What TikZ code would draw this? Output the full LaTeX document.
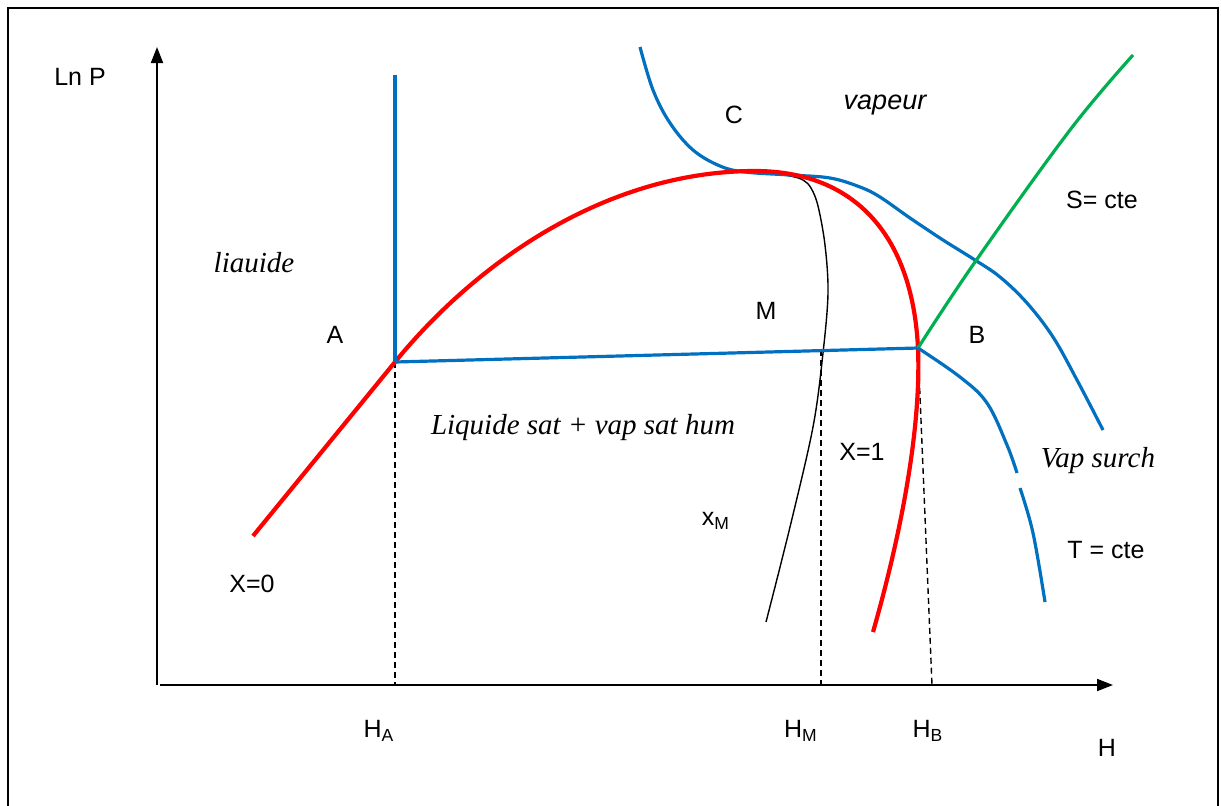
\documentclass[tikz,border=0pt]{standalone}
\usepackage{fontspec}
\setmainfont{Liberation Sans}
\newfontfamily\serifit{Liberation Serif}
\usetikzlibrary{arrows.meta}
\definecolor{cred}{RGB}{255,0,0}
\definecolor{cblue}{RGB}{0,112,192}
\definecolor{cgreen}{RGB}{0,176,80}
\begin{document}
\begin{tikzpicture}[x=0.5pt,y=-0.5pt,
  lbl/.style={font=\fontsize{12.5}{14}\selectfont, inner sep=0pt},
  ilbl/.style={font=\serifit\itshape\fontsize{14.5}{16}\selectfont, inner sep=0pt},
  slbl/.style={font=\itshape\fontsize{13.5}{15}\selectfont, inner sep=0pt},
  redc/.style={draw=cred, line width=2.1pt, line join=round},
  bluec/.style={draw=cblue, line width=1.6pt},
  greenc/.style={draw=cgreen, line width=1.6pt},
  blackc/.style={draw=black, line width=0.7pt},
  axis/.style={draw=black, line width=0.9pt, -{Triangle[length=8pt,width=6pt]}},
  guide/.style={draw=black, line width=0.7pt, dash pattern=on 3pt off 2pt},
  frame/.style={draw=black, line width=0.8pt}]
\fill[white] (0,0) rectangle (1221,805);
\useasboundingbox (0,0) rectangle (1221,805);
\draw[frame] (8,810) -- (8,8) -- (1218,8) -- (1218,810);

% key points
\coordinate (O) at (157,685);
\coordinate (Ytop) at (157,47);
\coordinate (Xo) at (160,685);
\coordinate (Xend) at (1113,685);
\coordinate (A) at (395,362);
\coordinate (B) at (918,348);
\coordinate (Top) at (755,171);
\coordinate (Rlow) at (253,536);
\coordinate (Rend) at (873,632);
\coordinate (Mx) at (821,350);
\coordinate (Atop) at (395,75);
\coordinate (HAb) at (395,685);
\coordinate (HMb) at (821,685);
\coordinate (HBb) at (932,685);

% axes
\draw[axis] (O) -- (Ytop);
\draw[axis] (Xo) -- (Xend);

% dashed guides
\draw[guide] (A) -- (HAb);
\draw[guide] (Mx) -- (HMb);
\draw[guide] (B) -- (HBb);

% black x_M curve
\draw[blackc] plot[smooth, tension=0.55] coordinates {(740,171) (763,172) (790,176) (803,180) (811,188) (818,206) (825,245) (828,293) (823,353) (813,427) (790,527) (766,622)};

% blue critical isotherm (C)
\draw[bluec] plot[smooth, tension=0.6] coordinates {(640,47) (653,90) (670,123) (693,150) (720,166) (745,172) (790,175) (830,178) (860,187) (880,197) (910,218) (943,240) (975,260) (1000,277) (1027,303) (1053,337) (1077,380) (1103,430)};

% red saturation curve
\draw[redc] (Rlow) -- (A) .. controls (480,258) and (610,171) .. (Top)
  .. controls (850,171) and (912,230) .. (B)
  .. controls (921,420) and (905,520) .. (Rend);

% vertical blue at A, horizontal A-B
\draw[bluec] (Atop) -- (A);
\draw[bluec] (A) -- (B);

% green isentrope
\draw[greenc] plot[smooth, tension=0.6] coordinates {(B) (975,262) (1070,130) (1133,55)};

% blue isotherm T=cte
\draw[bluec] plot[smooth, tension=0.6] coordinates {(B) (960,377) (987,403) (1007,445) (1017,473)};
\draw[bluec] plot[smooth, tension=0.6] coordinates {(1020,488) (1033,533) (1045,602)};

% labels
\node[lbl] (lnp) at (80,77) {Ln P};
\node[lbl] (lC) at (734,115) {C};
\node[slbl] (lvap) at (885,105) {vapeur};
\node[lbl] (lS) at (1102,200) {S= cte};
\node[ilbl] (lliq) at (254,263) {liauide};
\node[lbl] (lA) at (335,335) {A};
\node[lbl] (lM) at (766,311) {M};
\node[lbl] (lB) at (977,335) {B};
\node[ilbl] (lmix) at (583,428) {Liquide sat + vap sat hum};
\node[lbl] (lX1) at (862,452) {X=1};
\node[ilbl] (lvs) at (1098,461) {Vap surch};
\node[lbl] (lxM) at (716,521) {x\textsubscript{M}};
\node[lbl] (lT) at (1106,550) {T = cte};
\node[lbl] (lX0) at (252,584) {X=0};
\node[lbl] (lHA) at (379,731) {H\textsubscript{A}};
\node[lbl] (lHM) at (801,731) {H\textsubscript{M}};
\node[lbl] (lHB) at (928,731) {H\textsubscript{B}};
\node[lbl] (lH) at (1107,748) {H};
\end{tikzpicture}
\end{document}
